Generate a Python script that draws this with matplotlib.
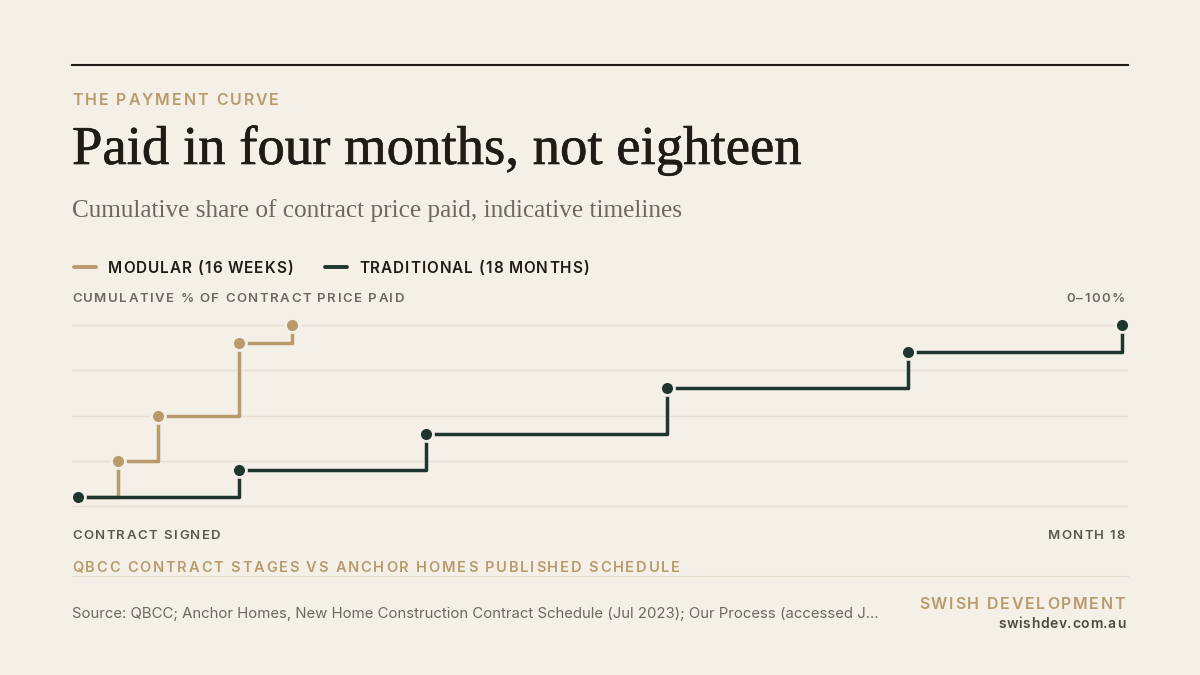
import matplotlib
matplotlib.use('Agg')
import matplotlib.pyplot as plt
import matplotlib.patheffects as pe
from matplotlib.lines import Line2D

# data: weeks from contract signing vs cumulative % of contract price paid
modular_weeks = [0, 3, 6, 12, 16]
modular_paid = [5, 25, 50, 90, 100]
traditional_weeks = [0, 12, 26, 44, 62, 78]
traditional_paid = [5, 20, 40, 65, 85, 100]
grid_levels = [0, 25, 50, 75, 100]

W, H = 1200, 675
BG = '#f4f0e8'
INK = '#1f1c17'
TAN = '#b99a6b'
GREEN = '#1e362d'
GREY = '#6e685c'
GRID = '#e7e0d2'

fig = plt.figure(figsize=(12, 6.75), dpi=100, facecolor=BG)
renderer = fig.canvas.get_renderer()


def fx(px):
    return px / W


def fy(py):
    return 1 - py / H


def text_width(s, **kw):
    t = fig.text(0, 0, s, **kw)
    w = t.get_window_extent(renderer).width
    t.remove()
    return w


def tracked(x, y, s, size, color, width, weight='semibold', ha='left'):
    # letter-spaced text, spread to the given pixel width
    kw = dict(fontsize=size, fontfamily='Inter', fontweight=weight)
    base = text_width(s, **kw)
    gap = (width - base) / (len(s) - 1)
    total = base + gap * (len(s) - 1)
    x0 = x - total if ha == 'right' else x
    hw = text_width('H', **kw)
    for i, ch in enumerate(s):
        if ch == ' ':
            continue
        off = text_width(s[:i] + 'H', **kw) - hw if i else 0
        fig.text(fx(x0 + off + i * gap), fy(y), ch, color=color,
                 va='baseline', ha='left', **kw)


def fitted(x, y, s, width, family, color, weight='normal', stroke=0):
    w10 = text_width(s, fontsize=10, fontfamily=family, fontweight=weight)
    size = 10 * width / w10
    t = fig.text(fx(x), fy(y), s, fontsize=size, fontfamily=family,
                 fontweight=weight, color=color, va='baseline', ha='left')
    if stroke:
        # a thin outline in the same colour gives the heavier book weight
        t.set_path_effects([pe.withStroke(linewidth=stroke, foreground=color)])


# rules
fig.add_artist(Line2D([fx(72), fx(1128)], [fy(65), fy(65)], color=INK, lw=1.5))
fig.add_artist(Line2D([fx(72), fx(1128)], [fy(576), fy(576)], color='#e3dbcb', lw=0.8))

# header
tracked(72, 105, 'THE PAYMENT CURVE', 11.5, TAN, 207)
fitted(72, 164, 'Paid in four months, not eighteen', 730, 'Liberation Serif', INK, stroke=0.45)
fitted(72, 217, 'Cumulative share of contract price paid, indicative timelines',
       612, 'Liberation Serif', GREY)

# legend
fig.add_artist(Line2D([fx(74), fx(96)], [fy(267), fy(267)], color=TAN, lw=2.8,
                      solid_capstyle='round'))
tracked(108, 273, 'MODULAR (16 WEEKS)', 11, INK, 185)
fig.add_artist(Line2D([fx(325), fx(347)], [fy(267), fy(267)], color=GREEN, lw=2.8,
                      solid_capstyle='round'))
tracked(359, 273, 'TRADITIONAL (18 MONTHS)', 11, INK, 230)

tracked(72, 302, 'CUMULATIVE % OF CONTRACT PRICE PAID', 9.5, GREY, 332)
tracked(1125, 302, '0–100%', 9.5, GREY, 59, ha='right')

# chart area
ax = fig.add_axes([fx(72), fy(510), fx(1128) - fx(72), fy(318) - fy(510)])
ax.set_facecolor(BG)
for lvl in grid_levels:
    ax.axhline(lvl, color=GRID, lw=1.0, zorder=0)

ax.plot(modular_weeks, modular_paid, drawstyle='steps-post', color=TAN, lw=2.5,
        zorder=2, clip_on=False)
ax.plot(modular_weeks, modular_paid, 'o', color=TAN, ms=10, mec=BG, mew=2,
        zorder=3, clip_on=False)
ax.plot(traditional_weeks, traditional_paid, drawstyle='steps-post', color=GREEN,
        lw=2.5, zorder=4, clip_on=False)
ax.plot(traditional_weeks, traditional_paid, 'o', color=GREEN, ms=10, mec=BG, mew=2,
        zorder=5, clip_on=False)

ax.set_xlim(-0.448, 78.448)
ax.set_ylim(-2.21, 103.87)
ax.set_xticks([])
ax.set_yticks([])
for sp in ax.spines.values():
    sp.set_visible(False)

# axis end labels and footer
tracked(72, 539, 'CONTRACT SIGNED', 9.5, '#5c574d', 149)
tracked(1125, 539, 'MONTH 18', 9.5, '#5c574d', 77, ha='right')
tracked(72, 572, 'QBCC CONTRACT STAGES VS ANCHOR HOMES PUBLISHED SCHEDULE', 10.5, TAN, 608)

fitted(72, 618, 'Source: QBCC; Anchor Homes, New Home Construction Contract Schedule '
       '(Jul 2023); Our Process (accessed J...', 812, 'Inter', GREY)
tracked(1125, 609, 'SWISH DEVELOPMENT', 11.5, TAN, 206, ha='right')
tracked(1125, 628, 'swishdev.com.au', 10, '#4d4840', 127, ha='right')

fig.savefig('out.png', dpi=100, facecolor=BG)
